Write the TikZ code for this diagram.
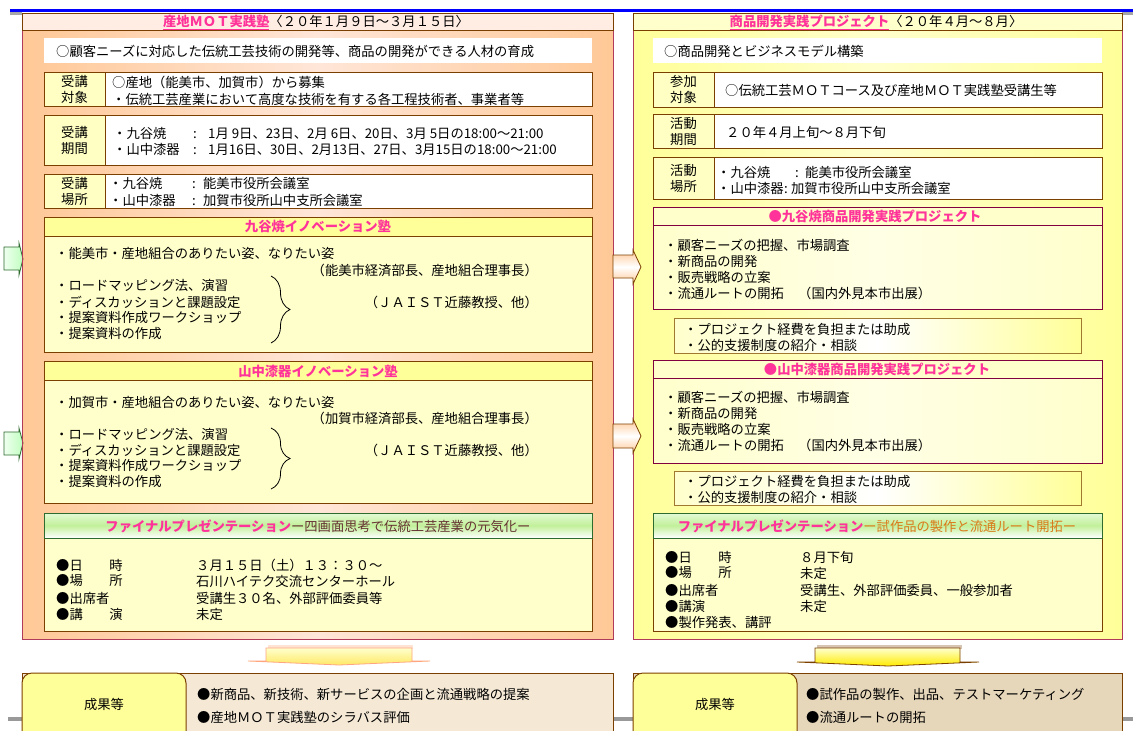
\documentclass[tikz,border=0pt]{standalone}
\usepackage{fontspec}
\setmainfont{Noto Sans CJK JP}
\usetikzlibrary{fit,decorations.pathreplacing}
\definecolor{pk}{HTML}{FF3399}
\definecolor{mar}{HTML}{663333}
\definecolor{orn}{HTML}{D97A1A}
\definecolor{peach}{HTML}{FFC896}
\definecolor{peachlt}{HTML}{FFE6D8}
\definecolor{pborder}{HTML}{B03A5A}
\definecolor{brn}{HTML}{7B3F00}
\definecolor{labfill}{HTML}{FFFFC4}
\definecolor{ylw}{HTML}{FFFF99}
\definecolor{ylwlt}{HTML}{FFFFCC}
\definecolor{projb}{HTML}{800040}
\definecolor{supb}{HTML}{A07830}
\definecolor{grnb}{HTML}{2E6B2E}
\definecolor{grnmid}{HTML}{C2F09A}
\definecolor{grntop}{HTML}{E4FAD6}
\definecolor{bgL}{HTML}{F5E9D6}
\definecolor{bgR}{HTML}{E6D6BA}
\newcommand\fs{\fontsize{13.3pt}{16pt}\selectfont}
\newcommand\pkb[1]{\textcolor{pk}{\bfseries #1}}
\tikzset{
  T/.style={anchor=west,inner sep=0pt,font=\fs},
  TC/.style={inner sep=0pt,font=\fs,align=center},
  TE/.style={anchor=east,inner sep=0pt,font=\fs},
  bx/.style={inner sep=0pt,outer sep=0pt},
  panelL/.style={bx,draw=pborder,line width=1pt,left color=peach,right color=peach,middle color=peachlt},
  panelR/.style={bx,draw=pborder,line width=1pt,left color=ylw,right color=ylw,middle color=ylwlt},
  titleL/.style={bx,draw=brn,line width=0.8pt,fill=peachlt!70!white},
  titleR/.style={bx,draw=brn,line width=0.8pt,fill=ylwlt},
  wbox/.style={bx,fill=white},
  rowbox/.style={bx,draw=brn,line width=1pt,fill=white},
  labcell/.style={bx,draw=brn,line width=1pt,fill=labfill},
  innobody/.style={bx,draw=brn,line width=1pt,fill=ylwlt},
  innohead/.style={bx,draw=brn,line width=1pt,fill=ylw},
  projbody/.style={bx,draw=projb,line width=1pt,left color=ylwlt,right color=ylwlt,middle color=ylwlt!50!white},
  projhead/.style={bx,draw=projb,line width=1pt,fill=ylwlt},
  supbox/.style={bx,draw=supb,line width=1pt,left color=ylwlt,right color=ylw,middle color=white},
  finhead/.style={bx,draw=grnb,line width=0.8pt,top color=grntop,bottom color=white,middle color=grnmid},
  finbody/.style={bx,draw=brn,line width=1pt,fill=ylwlt},
  res/.style={bx,draw=brn,line width=1pt,rounded corners=10pt,fill=ylw},
  garrow/.style={draw=grnb,line width=0.8pt,left color=green!6!white,right color=green!25!white},
  marrow/.style={draw=brn,line width=0.8pt,top color=peach,bottom color=peach,middle color=white},
  brc/.style={decorate,decoration={brace,amplitude=19pt},line width=0.8pt},
}
\begin{document}
\begin{tikzpicture}[x=1pt,y=-1pt]
\clip (0,0) rectangle (1133,731);
\fill[white] (0,0) rectangle (1133,731);
% top blue line and shadows
\fill[gray!70] (10,12) rectangle (22,15);
\fill[gray!70] (1122,12) rectangle (1133,15);
\fill[blue] (10,9) rectangle (1133,12);
% grey base line
\fill[gray!80] (8,717) rectangle (1133,721);

% ================= LEFT PANEL =================
\node[fit={(22,13) (613,639)},panelL] (LP) {};
\node[fit={(22,13) (613,30)},titleL] (LPt) {};
\node[TC] (LPtt) at (316,22) {\textcolor{pk}{\bfseries\underline{産地ＭＯＴ実践塾}}〈２０年１月９日～３月１５日〉};
\node[fit={(44,38) (592,63)},wbox] (Lw) {};
\node[T] (Lwt) at (56,51) {○顧客ニーズに対応した伝統工芸技術の開発等、商品の開発ができる人材の育成};

\node[fit={(44,72) (592,106)},rowbox] (L1) {};
\node[fit={(44,72) (105,106)},labcell] (L1a) {};
\node[TC] (L1l) at (L1a) {受講\\対象};
\node[T] (L1t1) at (112,82) {○産地（能美市、加賀市）から募集};
\node[T] (L1t2) at (112,99) {・伝統工芸産業において高度な技術を有する各工程技術者、事業者等};

\node[fit={(44,115) (592,165)},rowbox] (L2) {};
\node[fit={(44,115) (105,165)},labcell] (L2a) {};
\node[TC] (L2l) at (L2a) {受講\\期間};
\node[T] (L2t1) at (113,133) {\makebox[80pt][l]{・九谷焼}\makebox[15pt][l]{:}1月 9日、23日、2月 6日、20日、3月 5日の18:00～21:00};
\node[T] (L2t2) at (113,149) {\makebox[80pt][l]{・山中漆器}\makebox[15pt][l]{:}1月16日、30日、2月13日、27日、3月15日の18:00～21:00};

\node[fit={(44,174) (592,208)},rowbox] (L3) {};
\node[fit={(44,174) (105,208)},labcell] (L3a) {};
\node[TC] (L3l) at (L3a) {受講\\場所};
\node[T] (L3t1) at (109,183) {\makebox[83pt][l]{・九谷焼}\makebox[11pt][l]{:}能美市役所会議室};
\node[T] (L3t2) at (109,200) {\makebox[83pt][l]{・山中漆器}\makebox[11pt][l]{:}加賀市役所山中支所会議室};

% Kutani innovation
\node[fit={(44,217) (592,352)},innobody] (LK) {};
\node[fit={(44,217) (592,236)},innohead] (LKh) {};
\node[TC] (LKht) at (318,226) {\pkb{九谷焼イノベーション塾}};
\node[T] (LK1) at (55,253) {・能美市・産地組合のありたい姿、なりたい姿};
\node[TE] (LK2) at (538,270) {（能美市経済部長、産地組合理事長）};
\node[T] (LK3) at (55,285) {・ロードマッピング法、演習};
\node[T] (LK4) at (55,302) {・ディスカッションと課題設定};
\node[T] (LK5) at (55,317) {・提案資料作成ワークショップ};
\node[T] (LK6) at (55,333) {・提案資料の作成};
\node[TE] (LK7) at (538,302) {（ＪＡＩＳＴ近藤教授、他）};
\draw[brc] (271,276) -- (271,343);

% Yamanaka innovation
\node[fit={(44,361) (592,503)},innobody] (LY) {};
\node[fit={(44,361) (592,380)},innohead] (LYh) {};
\node[TC] (LYht) at (318,371) {\pkb{山中漆器イノベーション塾}};
\node[T] (LY1) at (55,402) {・加賀市・産地組合のありたい姿、なりたい姿};
\node[TE] (LY2) at (538,418) {（加賀市経済部長、産地組合理事長）};
\node[T] (LY3) at (55,434) {・ロードマッピング法、演習};
\node[T] (LY4) at (55,450) {・ディスカッションと課題設定};
\node[T] (LY5) at (55,465) {・提案資料作成ワークショップ};
\node[T] (LY6) at (55,481) {・提案資料の作成};
\node[TE] (LY7) at (538,450) {（ＪＡＩＳＴ近藤教授、他）};
\draw[brc] (271,428) -- (271,489);

% Final presentation left
\node[fit={(44,513) (592,631)},finbody] (LF) {};
\node[fit={(44,513) (592,538)},finhead] (LFh) {};
\node[TC] (LFht) at (318,526) {\pkb{ファイナルプレゼンテーション}\textcolor{mar}{ー四画面思考で伝統工芸産業の元気化ー}};
\node[T] (LF1) at (56,565) {●日　　時};
\node[T] (LF2) at (56,581) {●場　　所};
\node[T] (LF3) at (56,598) {●出席者};
\node[T] (LF4) at (56,614) {●講　　演};
\node[T] (LF1v) at (196,565) {３月１５日（土）１３：３０～};
\node[T] (LF2v) at (196,581) {石川ハイテク交流センターホール};
\node[T] (LF3v) at (196,598) {受講生３０名、外部評価委員等};
\node[T] (LF4v) at (196,614) {未定};

% ================= RIGHT PANEL =================
\node[fit={(633,13) (1122,639)},panelR] (RP) {};
\node[fit={(633,13) (1122,30)},titleR] (RPt) {};
\node[TC] (RPtt) at (876,22) {\textcolor{pk}{\bfseries\underline{商品開発実践プロジェクト}}〈２０年４月～８月〉};
\node[fit={(653,38) (1102,63)},wbox] (Rw) {};
\node[T] (Rwt) at (664,51) {○商品開発とビジネスモデル構築};

\node[fit={(653,72) (1102,107)},rowbox] (R1) {};
\node[fit={(653,72) (714,107)},labcell] (R1a) {};
\node[TC] (R1l) at (R1a) {参加\\対象};
\node[T] (R1t) at (725,90) {○伝統工芸ＭＯＴコース及び産地ＭＯＴ実践塾受講生等};

\node[fit={(653,114) (1102,148)},rowbox] (R2) {};
\node[fit={(653,114) (714,148)},labcell] (R2a) {};
\node[TC] (R2l) at (R2a) {活動\\期間};
\node[T] (R2t) at (726,132) {２０年４月上旬～８月下旬};

\node[fit={(653,157) (1102,199)},rowbox] (R3) {};
\node[fit={(653,157) (714,199)},labcell] (R3a) {};
\node[TC] (R3l) at (R3a) {活動\\場所};
\node[T] (R3t1) at (717,172) {\makebox[78pt][l]{・九谷焼}\makebox[10pt][l]{:}能美市役所会議室};
\node[T] (R3t2) at (717,188) {\makebox[67pt][l]{・山中漆器}\makebox[7pt][l]{:}加賀市役所山中支所会議室};

% Kutani project
\node[fit={(653,207) (1102,309)},projbody] (RK) {};
\node[fit={(653,207) (1102,225)},projhead] (RKh) {};
\node[TC] (RKht) at (875,216) {\pkb{●九谷焼商品開発実践プロジェクト}};
\node[T] (RK1) at (664,245) {・顧客ニーズの把握、市場調査};
\node[T] (RK2) at (664,261) {・新商品の開発};
\node[T] (RK3) at (664,277) {・販売戦略の立案};
\node[T] (RK4) at (664,293) {\makebox[134pt][l]{・流通ルートの開拓}（国内外見本市出展）};
\node[fit={(674,318) (1081,353)},supbox] (RKs) {};
\node[T] (RKs1) at (684,329) {・プロジェクト経費を負担または助成};
\node[T] (RKs2) at (684,345) {・公的支援制度の紹介・相談};

% Yamanaka project
\node[fit={(653,360) (1102,463)},projbody] (RY) {};
\node[fit={(653,360) (1102,378)},projhead] (RYh) {};
\node[TC] (RYht) at (877,369) {\pkb{●山中漆器商品開発実践プロジェクト}};
\node[T] (RY1) at (664,397) {・顧客ニーズの把握、市場調査};
\node[T] (RY2) at (664,413) {・新商品の開発};
\node[T] (RY3) at (664,429) {・販売戦略の立案};
\node[T] (RY4) at (664,445) {\makebox[134pt][l]{・流通ルートの開拓}（国内外見本市出展）};
\node[fit={(674,471) (1081,505)},supbox] (RYs) {};
\node[T] (RYs1) at (684,481) {・プロジェクト経費を負担または助成};
\node[T] (RYs2) at (684,497) {・公的支援制度の紹介・相談};

% Final presentation right
\node[fit={(653,513) (1102,631)},finbody] (RF) {};
\node[fit={(653,513) (1102,538)},finhead] (RFh) {};
\node[TC] (RFht) at (877,526) {\pkb{ファイナルプレゼンテーション}\textcolor{orn}{ー試作品の製作と流通ルート開拓ー}};
\node[T] (RF1) at (665,557) {●日　　時};
\node[T] (RF2) at (665,573) {●場　　所};
\node[T] (RF3) at (665,590) {●出席者};
\node[T] (RF4) at (665,606) {●講演};
\node[T] (RF5) at (665,622) {●製作発表、講評};
\node[T] (RF1v) at (800,557) {８月下旬};
\node[T] (RF2v) at (800,573) {未定};
\node[T] (RF3v) at (800,590) {受講生、外部評価委員、一般参加者};
\node[T] (RF4v) at (800,606) {未定};

% ================= ARROWS =================
% green arrows at left
\draw[garrow] (4,247) -- (19,247) -- (19,243) -- (23,259) -- (19,275) -- (19,270) -- (4,270) -- cycle;
\draw[garrow] (4,432) -- (19,432) -- (19,428) -- (23,443) -- (19,459) -- (19,455) -- (4,455) -- cycle;
\draw[pborder,line width=1pt] (22,240) -- (22,280) (22,425) -- (22,465);
% middle arrows
\draw[marrow] (613,255) -- (633,255) -- (633,250) -- (641,267) -- (633,284) -- (633,278) -- (613,278) -- cycle;
\draw[marrow] (613,424) -- (633,424) -- (633,419) -- (641,436) -- (633,453) -- (633,448) -- (613,448) -- cycle;
% down arrows
\fill[pink!60!orange!30!white] (268,645) rectangle (413,649);
\draw[draw=orange!60!red!50!white,line width=0.8pt,top color=ylwlt,bottom color=yellow!70!orange!60!white]
  (266,648) -- (412,648) -- (412,661) -- (430,661) -- (339,665) -- (248,661) -- (266,661) -- cycle;
\fill[brn!30!white] (817,645) rectangle (962,649);
\draw[draw=brn,line width=0.8pt,top color=ylwlt,bottom color=yellow!85!orange]
  (815,648) -- (960,648) -- (960,662) -- (979,662) -- (888,666) -- (797,662) -- (815,662) -- cycle;

% ================= RESULTS =================
\node[fit={(22,673) (613,745)},bx,draw=brn,line width=1pt,fill=bgL] (LB) {};
\node[fit={(22,673) (186,745)},res] (LBr) {};
\node[TC] (LBrt) at (104,704) {成果等};
\node[T] (LB1) at (197,694) {●新商品、新技術、新サービスの企画と流通戦略の提案};
\node[T] (LB2) at (197,717) {●産地ＭＯＴ実践塾のシラバス評価};

\node[fit={(633,673) (1122,745)},bx,draw=brn,line width=1pt,fill=bgR] (RB) {};
\node[fit={(633,673) (797,745)},res] (RBr) {};
\node[TC] (RBrt) at (715,704) {成果等};
\node[T] (RB1) at (806,694) {●試作品の製作、出品、テストマーケティング};
\node[T] (RB2) at (806,717) {●流通ルートの開拓};
\end{tikzpicture}
\end{document}
